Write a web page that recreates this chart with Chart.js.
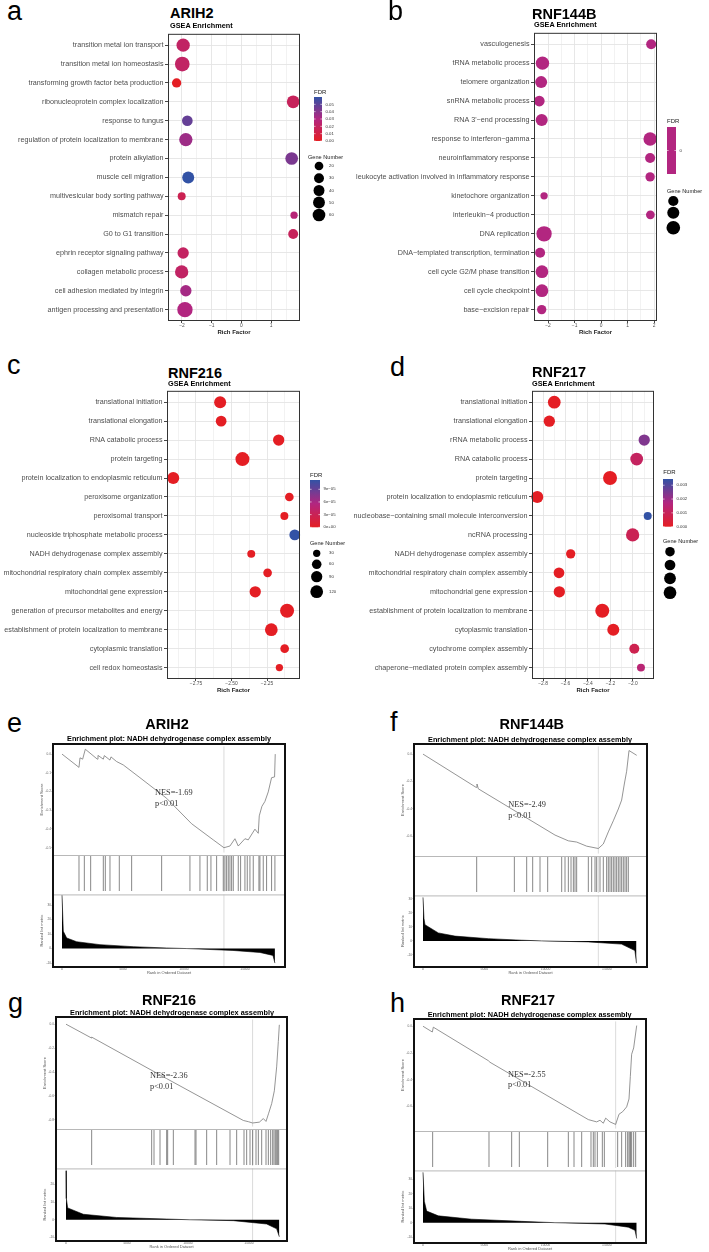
<!DOCTYPE html>
<html>
<head>
<meta charset="utf-8">
<script src="https://cdn.jsdelivr.net/npm/chart.js@4.4.1/dist/chart.umd.min.js"></script>
<style>
  body { margin: 0; background: #fff; }
  #page { position: relative; width: 709px; height: 1252px; overflow: hidden; background: #fff; }
  #page canvas { position: absolute; }
  .txt { position: absolute; white-space: nowrap; line-height: 1; }
  .frame { position: absolute; border: 2px solid #111; box-sizing: border-box; pointer-events: none; }
</style>
</head>
<body>
<div id="page"></div>
<script>
//*****************************************************************************************
// data

// a - ARIH2 dot plot
const arih2Terms = ["transition metal ion transport", "transition metal ion homeostasis", "transforming growth factor beta production",
  "ribonucleoprotein complex localization", "response to fungus", "regulation of protein localization to membrane", "protein alkylation",
  "muscle cell migration", "multivesicular body sorting pathway", "mismatch repair", "G0 to G1 transition", "ephrin receptor signaling pathway",
  "collagen metabolic process", "cell adhesion mediated by integrin", "antigen processing and presentation"];
const arih2Rich = [-1.96, -1.99, -2.18, 1.74, -1.82, -1.87, 1.69, -1.79, -2.01, 1.77, 1.74, -1.96, -2.01, -1.87, -1.90];
const arih2Fdr = [0.021, 0.021, 0.0, 0.018, 0.048, 0.035, 0.043, 0.060, 0.015, 0.027, 0.018, 0.020, 0.021, 0.033, 0.030];
const arih2Genes = [68, 88, 25, 60, 37, 68, 60, 51, 15, 11, 30, 44, 68, 44, 98];

// b - RNF144B dot plot
const rnf144bTerms = ["vasculogenesis", "tRNA metabolic process", "telomere organization", "snRNA metabolic process", "RNA 3'\u2212end processing",
  "response to interferon\u2212gamma", "neuroinflammatory response", "leukocyte activation involved in inflammatory response",
  "kinetochore organization", "interleukin\u22124 production", "DNA replication", "DNA\u2212templated transcription, termination",
  "cell cycle G2/M phase transition", "cell cycle checkpoint", "base\u2212excision repair"];
const rnf144bRich = [1.89, -2.21, -2.26, -2.33, -2.24, 1.85, 1.85, 1.85, -2.15, 1.86, -2.15, -2.30, -2.23, -2.23, -2.24];
const rnf144bFdr = [0, 0, 0, 0, 0, 0, 0, 0, 0, 0, 0, 0, 0, 0, 0];
const rnf144bGenes = [38, 76, 59, 45, 59, 76, 38, 32, 17, 27, 105, 38, 68, 68, 32];

// c - RNF216 dot plot
const rnf216Terms = ["translational initiation", "translational elongation", "RNA catabolic process", "protein targeting",
  "protein localization to endoplasmic reticulum", "peroxisome organization", "peroxisomal transport", "nucleoside triphosphate metabolic process",
  "NADH dehydrogenase complex assembly", "mitochondrial respiratory chain complex assembly", "mitochondrial gene expression",
  "generation of precursor metabolites and energy", "establishment of protein localization to membrane", "cytoplasmic translation",
  "cell redox homeostasis"];
const rnf216Rich = [-2.580, -2.573, -2.168, -2.423, -2.910, -2.093, -2.128, -2.055, -2.361, -2.246, -2.333, -2.109, -2.220, -2.126, -2.163];
const rnf216Fdr = [0, 0, 0, 0, 0, 0, 0, 1.12e-4, 0, 0, 0, 0, 0, 0, 0];
const rnf216Genes = [105, 80, 91, 150, 105, 47, 38, 80, 38, 47, 91, 150, 120, 47, 30];

// d - RNF217 dot plot
const rnf217Terms = ["translational initiation", "translational elongation", "rRNA metabolic process", "RNA catabolic process", "protein targeting",
  "protein localization to endoplasmic reticulum", "nucleobase\u2212containing small molecule interconversion", "ncRNA processing",
  "NADH dehydrogenase complex assembly", "mitochondrial respiratory chain complex assembly", "mitochondrial gene expression",
  "establishment of protein localization to membrane", "cytoplasmic translation", "cytochrome complex assembly",
  "chaperone\u2212mediated protein complex assembly"];
const rnf217Rich = [-2.700, -2.744, -1.900, -1.967, -2.204, -2.851, -1.869, -2.003, -2.554, -2.658, -2.655, -2.273, -2.175, -1.988, -1.929];
const rnf217Fdr = [0, 0, 0.0024, 0.0011, 0, 0, 0.00345, 0.0009, 0, 0, 0, 0, 0, 0.0008, 0.0015];
const rnf217Genes = [120, 91, 91, 120, 150, 105, 38, 133, 56, 80, 91, 150, 105, 67, 38];

// x ticks of the dot plots
const richTicksA = [-2, -1, 0, 1];
const richTickLabelsA = ["\u22122", "\u22121", "0", "1"];
const richMinorA = [-1.5, -0.5, 0.5, 1.5];
const richTicksB = [-2, -1, 0, 1, 2];
const richTickLabelsB = ["\u22122", "\u22121", "0", "1", "2"];
const richMinorB = [-1.5, -0.5, 0.5, 1.5];
const richTicksC = [-2.75, -2.5, -2.25];
const richTickLabelsC = ["\u22122.75", "\u22122.50", "\u22122.25"];
const richMinorC = [-2.875, -2.625, -2.375, -2.125];
const richTicksD = [-2.8, -2.6, -2.4, -2.2, -2.0];
const richTickLabelsD = ["\u22122.8", "\u22122.6", "\u22122.4", "\u22122.2", "\u22122.0"];
const richMinorD = [-2.7, -2.5, -2.3, -2.1, -1.9];

// legend breaks
const fdrBreaksA = [0, 0.01, 0.02, 0.03, 0.04, 0.05];
const fdrLabelsA = ["0.00", "0.01", "0.02", "0.03", "0.04", "0.05"];
const fdrBreaksB = [0];
const fdrLabelsB = ["0"];
const fdrBreaksC = [0, 3e-5, 6e-5, 9e-5];
const fdrLabelsC = ["0e+00", "3e\u221205", "6e\u221205", "9e\u221205"];
const fdrBreaksD = [0, 0.001, 0.002, 0.003];
const fdrLabelsD = ["0.000", "0.001", "0.002", "0.003"];
const geneBreaksA = [20, 30, 40, 50, 60];
const geneBreaksB = [40, 60, 80];
const geneBreaksC = [30, 60, 90, 120];
const geneBreaksD = [60, 80, 100, 120];

// e - ARIH2 enrichment plot
const arih2EsRank = [0, 1393, 1475, 1694, 1912, 2896, 2951, 3388, 3470, 3934, 4016, 4481, 5027, 6393, 8579, 10628, 12402, 13279,
  13771, 14180, 14453, 15000, 15273, 15820, 16093, 16175, 16393, 16639, 16912, 17185, 17431, 17486];
const arih2EsScore = [0.0, -0.071, -0.020, -0.027, 0.026, -0.027, -0.007, -0.027, -0.008, -0.032, -0.015, -0.040, -0.058, -0.126, -0.236,
  -0.372, -0.458, -0.500, -0.491, -0.452, -0.491, -0.452, -0.458, -0.401, -0.423, -0.330, -0.279, -0.253, -0.202, -0.126, -0.122, 0.0];
const arih2HitRank = [1393, 1831, 2350, 3388, 3552, 3934, 4699, 5710, 8170, 10492, 11312, 11913, 12214, 12678, 13224, 13361, 13498,
  13634, 13771, 13908, 14044, 14454, 14645, 15000, 15191, 15410, 15683, 16148, 16230, 16503, 16776, 17186, 17459];
const arih2MetricRank = [0, 107, 385, 1205, 3115, 5845, 8580, 10246, 14017, 16230, 17296, 17460];
const arih2MetricValue = [36.7, 12, 7.3, 4.7, 2.7, 1.3, 0.4, 0, -1.3, -2.7, -4.7, -10];

// f - RNF144B enrichment plot
const rnf144bEsRank = [0, 4325, 4406, 4515, 10771, 11858, 12539, 13356, 14307, 14714, 15122, 15530, 15938, 16210, 16427, 16618, 16810, 17438];
const rnf144bEsScore = [0, -0.242, -0.218, -0.253, -0.590, -0.632, -0.641, -0.671, -0.688, -0.655, -0.567, -0.486, -0.400, -0.335,
  -0.218, -0.125, 0.026, -0.009];
const rnf144bHitRank = [4381, 7454, 8460, 8950, 9548, 10174, 11316, 11588, 11860, 12078, 12269, 12403, 12539, 13491, 13763, 14035,
  14171, 14443, 14714, 14986, 15122, 15258, 15394, 15530, 15666, 15802, 15938, 16074, 16210, 16346, 16483, 16618, 16754];
const rnf144bMetricRank = [0, 80, 163, 1250, 2610, 5330, 8050, 9680, 13480, 16200, 17290, 17420];
const rnf144bMetricValue = [31, 16, 11.5, 5.7, 3.4, 1.6, 0.5, 0, -0.7, -2.3, -6.9, -15.9];

// g - RNF216 enrichment plot
const rnf216EsRank = [0, 2100, 2105, 8255, 14543, 14953, 15300, 15855, 16183, 16400, 16620, 16866, 17083, 17275, 17412, 17494];
const rnf216EsScore = [0, -0.116, -0.108, -0.455, -0.805, -0.815, -0.826, -0.819, -0.789, -0.813, -0.744, -0.664, -0.557, -0.357,
  -0.144, -0.005];
const rnf216HitRank = [2105, 7025, 7216, 7708, 8255, 8337, 8801, 10578, 10660, 11535, 12355, 13448, 13995, 14596, 14815, 15088, 15307,
  15581, 15773, 16046, 16401, 16593, 16784, 16948, 17057, 17167, 17276, 17358, 17440];
const rnf216MetricRank = [0, 27, 137, 1421, 4155, 8255, 10168, 13721, 16454, 17275, 17494];
const rnf216MetricValue = [27.7, 12, 6.7, 3.1, 1.3, 0.4, 0, -0.5, -2.4, -5.1, -9.6];

// h - RNF217 enrichment plot
const rnf217EsRank = [0, 761, 843, 5330, 5467, 13491, 14171, 14443, 14714, 14905, 15258, 15720, 15993, 16292, 16618, 16810, 16917,
  17026, 17190, 17438];
const rnf217EsScore = [0, -0.043, -0.007, -0.257, -0.269, -0.697, -0.714, -0.702, -0.724, -0.686, -0.714, -0.733, -0.657, -0.638,
  -0.602, -0.543, -0.376, -0.209, -0.162, 0.005];
const rnf217HitRank = [788, 5385, 7235, 7861, 10174, 11860, 12322, 12948, 13709, 13899, 14035, 14226, 14634, 14797, 15885, 16210,
  16537, 16700, 16809, 16890, 16945, 17027, 17190, 17354];
const rnf217MetricRank = [0, 109, 299, 1251, 3970, 8050, 10771, 14850, 16755, 17299, 17438];
const rnf217MetricValue = [34.7, 14.7, 8, 4.7, 2.4, 0.9, 0, -0.9, -3.1, -5.3, -10.9];

// axis ticks of the enrichment plots
const rankTicks = [0, 5000, 10000, 15000];
const esTicksE = [0, -0.1, -0.2, -0.3, -0.4, -0.5];
const esTicksF = [0, -0.2, -0.4, -0.6];
const esTicksG = [0, -0.2, -0.4, -0.6, -0.8];
const esTicksH = [0, -0.2, -0.4, -0.6];
const metricTicksE = [30, 20, 10, 0, -10];
const metricTicksF = [30, 20, 10, 0, -10];
const metricTicksG = [20, 10, 0, -10];
const metricTicksH = [30, 20, 10, 0, -10];

//*****************************************************************************************

const SANS = '"Liberation Sans", Arial, sans-serif';
Chart.defaults.font.family = SANS;
Chart.defaults.animation = false;

const page = document.getElementById("page");

function makeCanvas(box) {
  const c = document.createElement("canvas");
  c.width = box.width;
  c.height = box.height;
  c.style.left = box.left + "px";
  c.style.top = box.top + "px";
  c.style.width = box.width + "px";
  c.style.height = box.height + "px";
  page.appendChild(c);
  return c;
}

// text placed by its baseline
function addText(str, x, baseline, size, opt) {
  opt = opt || {};
  const d = document.createElement("div");
  d.className = "txt";
  d.textContent = str;
  d.style.fontSize = size + "px";
  d.style.fontFamily = opt.serif ? '"Liberation Serif", "Times New Roman", serif' : SANS;
  d.style.fontWeight = opt.bold ? "bold" : "normal";
  d.style.color = opt.color || "#000";
  d.style.top = baseline - (opt.serif ? 0.8375 : 0.8465) * size + "px";
  d.style.left = x + "px";
  if (opt.center) d.style.transform = "translateX(-50%)";
  page.appendChild(d);
}

// FDR colour ramp red -> magenta -> blue
const rampStops = [[228, 30, 36], [178, 38, 128], [50, 82, 165]];
function ramp(t) {
  t = Math.max(0, Math.min(1, t));
  const seg = t < 0.5 ? 0 : 1;
  const u = (t - seg * 0.5) / 0.5;
  const a = rampStops[seg], b = rampStops[seg + 1];
  return "rgb(" + a.map((v, i) => Math.round(v + (b[i] - v) * u)).join(",") + ")";
}
function fdrColor(v, lo, hi) {
  return ramp(hi > lo ? (v - lo) / (hi - lo) : 0.5);
}
function geneRadius(n, s) {
  return (s.a + s.b * Math.sqrt(n)) / 2;
}

// border of the ggplot panel
const panelBorder = {
  id: "panelBorder",
  afterDraw(chart, args, o) {
    if (!o.color) return;
    const a = chart.chartArea, ctx = chart.ctx;
    ctx.save();
    ctx.strokeStyle = o.color;
    ctx.lineWidth = o.width || 1;
    ctx.strokeRect(a.left + 0.5, a.top + 0.5, a.right - a.left - 1, a.bottom - a.top - 1);
    ctx.restore();
  },
};

// FDR colourbar + Gene Number legend
const dotLegend = {
  id: "dotLegend",
  afterDraw(chart, args, o) {
    if (!o.bar) return;
    const ctx = chart.ctx;
    const ox = o.origin[0], oy = o.origin[1];
    const x0 = o.bar[0] - ox, y0 = o.bar[1] - oy, x1 = o.bar[2] - ox, y1 = o.bar[3] - oy;
    ctx.save();
    ctx.textBaseline = "alphabetic";
    ctx.textAlign = "left";
    ctx.fillStyle = "#1a1a1a";
    ctx.font = "6px " + SANS;
    ctx.fillText("FDR", o.fdrTitle[0] - ox, o.fdrTitle[1] - oy);

    const grad = ctx.createLinearGradient(0, y1, 0, y0);
    for (let i = 0; i <= 20; i++) grad.addColorStop(i / 20, o.lo < o.hi ? ramp(i / 20) : ramp(0.5));
    ctx.fillStyle = grad;
    ctx.fillRect(x0, y0, x1 - x0, y1 - y0);

    ctx.font = "4.3px " + SANS;
    ctx.textBaseline = "middle";
    o.breaks.forEach((b, i) => {
      const y = o.lo < o.hi ? y1 - ((b - o.lo) / (o.hi - o.lo)) * (y1 - y0) : (y0 + y1) / 2;
      ctx.strokeStyle = "#fff";
      ctx.lineWidth = 0.6;
      ctx.beginPath();
      ctx.moveTo(x0, y);
      ctx.lineTo(x0 + 1.6, y);
      ctx.moveTo(x1 - 1.6, y);
      ctx.lineTo(x1, y);
      ctx.stroke();
      ctx.fillStyle = "#333";
      ctx.fillText(o.breakLabels[i], x1 + 3.5, y);
    });

    ctx.textBaseline = "alphabetic";
    ctx.fillStyle = "#1a1a1a";
    ctx.font = "5.6px " + SANS;
    ctx.fillText("Gene Number", o.geneTitle[0] - ox, o.geneTitle[1] - oy);
    ctx.font = "4.3px " + SANS;
    ctx.textBaseline = "middle";
    o.genes.forEach((g, i) => {
      const cy = o.geneY[i] - oy;
      ctx.fillStyle = "#000";
      ctx.beginPath();
      ctx.arc(o.geneX - ox, cy, geneRadius(g, o.size), 0, Math.PI * 2);
      ctx.fill();
      if (o.geneLabelX) {
        ctx.fillStyle = "#333";
        ctx.fillText(String(g), o.geneLabelX - ox, cy);
      }
    });
    ctx.restore();
  },
};

// grey marker line + separator lines for the enrichment plots
const gseaMarks = {
  id: "gseaMarks",
  beforeDatasetsDraw(chart, args, o) {
    if (o.rank == null) return;
    const ctx = chart.ctx, a = chart.chartArea;
    const x = chart.scales.x.getPixelForValue(o.rank);
    ctx.save();
    ctx.strokeStyle = "#d2d2d2";
    ctx.lineWidth = 0.8;
    ctx.beginPath();
    ctx.moveTo(x, a.top);
    ctx.lineTo(x, a.bottom);
    ctx.stroke();
    if (o.topLine) {
      ctx.strokeStyle = "#b8b8b8";
      ctx.lineWidth = 1;
      ctx.beginPath();
      ctx.moveTo(a.left, a.top + 0.5);
      ctx.lineTo(a.right, a.top + 0.5);
      ctx.stroke();
    }
    ctx.restore();
  },
};

Chart.register(panelBorder, dotLegend, gseaMarks);

//*****************************************************************************************
// dot plots a-d

function dotPlot(p) {
  const cv = makeCanvas(p.box);
  const n = p.terms.length;
  const lo = Math.min(...p.fdr), hi = Math.max(...p.fdr);
  const pts = p.terms.map((t, i) => ({ x: p.rich[i], y: i, r: geneRadius(p.genes[i], p.size) }));
  const isMajor = (v) => p.xMajor.some((m) => Math.abs(m - v) < 1e-9);
  const xTicks = p.xMajor.concat(p.xMinor).sort((a, b) => a - b);

  p.legend.origin = [p.box.left, p.box.top];
  p.legend.lo = lo;
  p.legend.hi = hi;
  p.legend.size = p.size;

  new Chart(cv, {
    type: "bubble",
    data: {
      datasets: [{
        data: pts,
        backgroundColor: p.fdr.map((f) => fdrColor(f, lo, hi)),
        borderWidth: 0,
        clip: false,
      }],
    },
    options: {
      responsive: false,
      devicePixelRatio: 1,
      animation: false,
      events: [],
      layout: {
        autoPadding: false,
        padding: { left: 0, top: p.area.t - p.box.top, right: p.box.left + p.box.width - p.area.r, bottom: 0 },
      },
      plugins: {
        legend: { display: false },
        tooltip: { enabled: false },
        panelBorder: { color: "#333", width: 1 },
        dotLegend: p.legend,
      },
      scales: {
        x: {
          type: "linear",
          min: p.xMin,
          max: p.xMax,
          afterBuildTicks: (s) => { s.ticks = xTicks.map((v) => ({ value: v })); },
          afterFit: (s) => { s.height = p.box.top + p.box.height - p.area.b; },
          ticks: {
            autoSkip: false,
            maxRotation: 0,
            padding: 0,
            color: "#4d4d4d",
            font: { size: 4.9 },
            callback: (v) => {
              const k = p.xMajor.findIndex((m) => Math.abs(m - v) < 1e-9);
              return k < 0 ? "" : p.xLabels[k];
            },
          },
          grid: {
            color: "#e4e4e4",
            lineWidth: (c) => (c.tick && isMajor(c.tick.value) ? 0.9 : 0.5),
            tickLength: 2,
            tickColor: (c) => (c.tick && isMajor(c.tick.value) ? "#333" : "rgba(0,0,0,0)"),
          },
          border: { display: false },
          title: { display: true, text: "Rich Factor", color: "#1a1a1a", font: { size: 6, weight: "bold" }, padding: 0 },
        },
        y: {
          type: "linear",
          reverse: true,
          min: -0.6,
          max: n - 0.4,
          afterBuildTicks: (s) => { s.ticks = p.terms.map((t, i) => ({ value: i })); },
          afterFit: (s) => { s.width = p.area.l - p.box.left; },
          ticks: {
            autoSkip: false,
            padding: 1.5,
            color: "#4d4d4d",
            font: { size: 7.2 },
            callback: (v) => p.terms[v],
          },
          grid: { color: "#e4e4e4", lineWidth: 0.9, tickLength: 3, tickColor: "#333" },
          border: { display: false },
        },
      },
    },
  });
}

dotPlot({
  terms: arih2Terms, rich: arih2Rich, fdr: arih2Fdr, genes: arih2Genes,
  box: { left: 0, top: 28, width: 352, height: 308 }, area: { l: 168, t: 33, r: 300, b: 321 },
  xMin: -2.47, xMax: 1.97, xMajor: richTicksA, xLabels: richTickLabelsA, xMinor: richMinorA,
  size: { a: 3.25, b: 1.22 },
  legend: {
    fdrTitle: [314, 94], bar: [314, 97, 322, 141], breaks: fdrBreaksA, breakLabels: fdrLabelsA,
    geneTitle: [308, 159], genes: geneBreaksA, geneX: 319, geneY: [166, 178.3, 190.5, 202.5, 215], geneLabelX: 329,
  },
});

dotPlot({
  terms: rnf144bTerms, rich: rnf144bRich, fdr: rnf144bFdr, genes: rnf144bGenes,
  box: { left: 345, top: 27, width: 364, height: 309 }, area: { l: 534, t: 32, r: 657, b: 321 },
  xMin: -2.53, xMax: 2.11, xMajor: richTicksB, xLabels: richTickLabelsB, xMinor: richMinorB,
  size: { a: 2, b: 1.3 },
  legend: {
    fdrTitle: [667, 123.3], bar: [667, 127, 676, 174], breaks: fdrBreaksB, breakLabels: fdrLabelsB,
    geneTitle: [667, 192.7], genes: geneBreaksB, geneX: 673.3, geneY: [201, 212.7, 227.7], geneLabelX: null,
  },
});

dotPlot({
  terms: rnf216Terms, rich: rnf216Rich, fdr: rnf216Fdr, genes: rnf216Genes,
  box: { left: 0, top: 385, width: 352, height: 309 }, area: { l: 167, t: 390, r: 300, b: 679 },
  xMin: -2.954, xMax: -2.018, xMajor: richTicksC, xLabels: richTickLabelsC, xMinor: richMinorC,
  size: { a: 1.9, b: 0.987 },
  legend: {
    fdrTitle: [310, 476.7], bar: [310, 480, 320, 527.3], breaks: fdrBreaksC, breakLabels: fdrLabelsC,
    geneTitle: [310, 545.3], genes: geneBreaksC, geneX: 316.7, geneY: [553.3, 564.3, 576.7, 591.7], geneLabelX: 329,
  },
});

dotPlot({
  terms: rnf217Terms, rich: rnf217Rich, fdr: rnf217Fdr, genes: rnf217Genes,
  box: { left: 345, top: 385, width: 364, height: 309 }, area: { l: 532, t: 390, r: 654, b: 679 },
  xMin: -2.898, xMax: -1.813, xMajor: richTicksD, xLabels: richTickLabelsD, xMinor: richMinorD,
  size: { a: 1.9, b: 0.987 },
  legend: {
    fdrTitle: [663.3, 474.3], bar: [663, 479, 673, 526.7], breaks: fdrBreaksD, breakLabels: fdrLabelsD,
    geneTitle: [663, 543.3], genes: geneBreaksD, geneX: 670, geneY: [551.7, 565, 578.3, 592.7], geneLabelX: null,
  },
});

//*****************************************************************************************
// enrichment plots e-h

function zip(xs, ys) {
  return xs.map((x, i) => ({ x: x, y: ys[i] }));
}

function smallAxis(min, max, ticks, title, width, fmt) {
  return {
    type: "linear",
    min: min,
    max: max,
    afterBuildTicks: (s) => { s.ticks = ticks.map((v) => ({ value: v })); },
    afterFit: (s) => { s.width = width; },
    ticks: { autoSkip: false, padding: 0.5, color: "#666", font: { size: 3.2 }, callback: fmt },
    grid: { drawOnChartArea: false, tickLength: 1.5, tickColor: "#555", lineWidth: 0.5 },
    border: { display: false },
    title: { display: true, text: title, color: "#555", font: { size: 4 }, padding: 0 },
  };
}

function gseaPanel(p) {
  const f = p.frame;
  const axisW = 14;
  const w = f.r - f.l;
  const markRank = p.esRank[p.esScore.indexOf(Math.min(...p.esScore))];
  const base = {
    responsive: false,
    devicePixelRatio: 1,
    animation: false,
    events: [],
    layout: { autoPadding: false, padding: 0 },
  };

  // running enrichment score
  const c1 = makeCanvas({ left: f.l - axisW, top: f.t, width: w + axisW, height: p.split1 - f.t });
  new Chart(c1, {
    type: "line",
    data: { datasets: [{ data: zip(p.esRank, p.esScore), borderColor: "#7a7a7a", borderWidth: 0.8, pointRadius: 0, tension: 0, fill: false }] },
    options: Object.assign({}, base, {
      plugins: { legend: { display: false }, tooltip: { enabled: false }, gseaMarks: { rank: markRank } },
      scales: {
        x: { type: "linear", display: false, min: p.xMin, max: p.xMax },
        y: smallAxis(p.esMin, p.esMax, p.esTicks, "Enrichment Score", axisW, (v) => v.toFixed(1)),
      },
    }),
  });

  // hits
  const c2 = makeCanvas({ left: f.l, top: p.split1, width: w, height: p.split2 - p.split1 });
  new Chart(c2, {
    type: "scatter",
    data: {
      datasets: [{
        data: p.hits.map((r) => ({ x: r, y: 0.5 })),
        pointStyle: "line",
        pointRotation: 90,
        pointRadius: (p.split2 - p.split1) / 2 - 1,
        pointBorderColor: "#6a6a6a",
        pointBorderWidth: 0.8,
        showLine: false,
      }],
    },
    options: Object.assign({}, base, {
      plugins: { legend: { display: false }, tooltip: { enabled: false }, gseaMarks: { rank: markRank, topLine: true } },
      scales: {
        x: { type: "linear", display: false, min: p.xMin, max: p.xMax },
        y: { type: "linear", display: false, min: 0, max: 1 },
      },
    }),
  });

  // ranked list metric
  const c3 = makeCanvas({ left: f.l - axisW, top: p.split2, width: w + axisW, height: f.b - p.split2 + 8 });
  new Chart(c3, {
    type: "line",
    data: {
      datasets: [{
        data: zip(p.metricRank, p.metricValue),
        borderColor: "#000",
        borderWidth: 0.6,
        backgroundColor: "#000",
        fill: "origin",
        pointRadius: 0,
        tension: 0,
      }],
    },
    options: Object.assign({}, base, {
      plugins: { legend: { display: false }, tooltip: { enabled: false }, gseaMarks: { rank: markRank, topLine: true } },
      scales: {
        x: {
          type: "linear",
          min: p.xMin,
          max: p.xMax,
          afterBuildTicks: (s) => { s.ticks = rankTicks.map((v) => ({ value: v })); },
          afterFit: (s) => { s.height = 8; },
          ticks: { autoSkip: false, maxRotation: 0, padding: 0, color: "#666", font: { size: 3.4 }, callback: (v) => String(v) },
          grid: { drawOnChartArea: false, tickLength: 0.5, tickColor: "#555" },
          border: { display: false },
          title: { display: true, text: "Rank in Ordered Dataset", color: "#555", font: { size: 4 }, padding: 0 },
        },
        y: smallAxis(p.metricMin, p.metricMax, p.metricTicks, "Ranked list metric", axisW, (v) => String(v)),
      },
    }),
  });

  const fr = document.createElement("div");
  fr.className = "frame";
  fr.style.left = f.l - 1 + "px";
  fr.style.top = f.t - 1 + "px";
  fr.style.width = w + 2 + "px";
  fr.style.height = f.b - f.t + 2 + "px";
  page.appendChild(fr);
}

gseaPanel({
  frame: { l: 53, t: 744, r: 285, b: 967 }, split1: 855, split2: 892,
  xMin: -738, xMax: 18286, esMin: -0.526, esMax: 0.041, metricMin: -12.7, metricMax: 37.3,
  esRank: arih2EsRank, esScore: arih2EsScore, hits: arih2HitRank, metricRank: arih2MetricRank, metricValue: arih2MetricValue,
  esTicks: esTicksE, metricTicks: metricTicksE,
});
gseaPanel({
  frame: { l: 414, t: 744, r: 647, b: 967 }, split1: 856, split2: 893,
  xMin: -734, xMax: 18278, esMin: -0.725, esMax: 0.056, metricMin: -18.6, metricMax: 32.4,
  esRank: rnf144bEsRank, esScore: rnf144bEsScore, hits: rnf144bHitRank, metricRank: rnf144bMetricRank, metricValue: rnf144bMetricValue,
  esTicks: esTicksF, metricTicks: metricTicksF,
});
gseaPanel({
  frame: { l: 56, t: 1017, r: 287, b: 1241 }, split1: 1129, split2: 1166,
  xMin: -820, xMax: 18122, esMin: -0.856, esMax: 0.04, metricMin: -12, metricMax: 29,
  esRank: rnf216EsRank, esScore: rnf216EsScore, hits: rnf216HitRank, metricRank: rnf216MetricRank, metricValue: rnf216MetricValue,
  esTicks: esTicksG, metricTicks: metricTicksG,
});
gseaPanel({
  frame: { l: 414, t: 1019, r: 646, b: 1243 }, split1: 1131, split2: 1168,
  xMin: -734, xMax: 18197, esMin: -0.764, esMax: 0.036, metricMin: -14, metricMax: 36,
  esRank: rnf217EsRank, esScore: rnf217EsScore, hits: rnf217HitRank, metricRank: rnf217MetricRank, metricValue: rnf217MetricValue,
  esTicks: esTicksH, metricTicks: metricTicksH,
});

//*****************************************************************************************
// titles, panel letters, NES text

addText("a", 7, 21, 27);
addText("b", 388, 20.7, 27);
addText("c", 7, 375, 27);
addText("d", 390, 376.7, 27);
addText("e", 7, 732.7, 27);
addText("f", 390, 731.7, 27);
addText("g", 8, 1013.3, 27);
addText("h", 390, 1013, 27);

addText("ARIH2", 170, 18.3, 14.5, { bold: true });
addText("GSEA Enrichment", 170, 28, 7.3, { bold: true });
addText("RNF144B", 532, 19.3, 14.5, { bold: true });
addText("GSEA Enrichment", 534, 26.7, 7.3, { bold: true });
addText("RNF216", 168, 378.5, 14.5, { bold: true });
addText("GSEA Enrichment", 168, 386.2, 7.3, { bold: true });
addText("RNF217", 532, 377.5, 14.5, { bold: true });
addText("GSEA Enrichment", 532, 386, 7.3, { bold: true });

const enrichTitle = "Enrichment plot: NADH dehydrogenase complex assembly";
addText("ARIH2", 167, 729.3, 14.5, { bold: true, center: true });
addText(enrichTitle, 169, 740.7, 7.3, { bold: true, center: true });
addText("RNF144B", 531.7, 729.3, 14.5, { bold: true, center: true });
addText(enrichTitle, 530, 741.7, 7.3, { bold: true, center: true });
addText("RNF216", 169, 1005, 14.5, { bold: true, center: true });
addText(enrichTitle, 172, 1015.5, 7.3, { bold: true, center: true });
addText("RNF217", 528, 1005, 14.5, { bold: true, center: true });
addText(enrichTitle, 529.7, 1016.7, 7.3, { bold: true, center: true });

addText("NES=-1.69", 155, 796, 8.3, { serif: true, color: "#333" });
addText("p<0.01", 155, 806.5, 8.3, { serif: true, color: "#333" });
addText("NES=-2.49", 508.3, 808.3, 8.3, { serif: true, color: "#333" });
addText("p<0.01", 508.3, 819, 8.3, { serif: true, color: "#333" });
addText("NES=-2.36", 150, 1079.3, 8.3, { serif: true, color: "#333" });
addText("p<0.01", 150, 1089.5, 8.3, { serif: true, color: "#333" });
addText("NES=-2.55", 508, 1077.7, 8.3, { serif: true, color: "#333" });
addText("p<0.01", 508, 1088, 8.3, { serif: true, color: "#333" });
</script>
</body>
</html>
